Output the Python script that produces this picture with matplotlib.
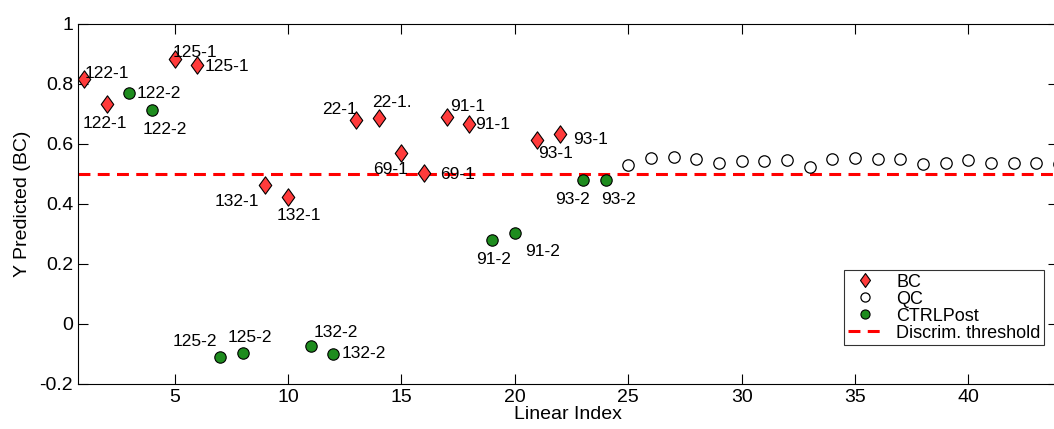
import numpy as np
import matplotlib.pyplot as plt
from matplotlib.path import Path as MPath

plt.rcParams["font.family"] = ["Liberation Sans", "DejaVu Sans"]
plt.rcParams["axes.unicode_minus"] = False

# BC samples
bc_x = [1, 2, 5, 6, 9, 10, 13, 14, 15, 16, 17, 18, 21, 22]
bc_y = [0.818, 0.735, 0.883, 0.865, 0.464, 0.424, 0.679, 0.685,
        0.570, 0.505, 0.691, 0.666, 0.614, 0.632]
bc_lab = ["122-1", "122-1", "125-1", "125-1", "132-1", "132-1", "22-1", "22-1.",
          "69-1", "69-1", "91-1", "91-1", "93-1", "93-1"]

# CTRLPost samples
ct_x = [3, 4, 7, 8, 11, 12, 19, 20, 23, 24]
ct_y = [0.770, 0.715, -0.109, -0.095, -0.074, -0.099, 0.281, 0.302, 0.480, 0.480]
ct_lab = ["122-2", "122-2", "125-2", "125-2", "132-2", "132-2",
          "91-2", "91-2", "93-2", "93-2"]

# QC samples
qc_x = list(range(25, 45))
qc_y = [0.530, 0.552, 0.557, 0.549, 0.537, 0.545, 0.545, 0.546, 0.525, 0.549,
        0.552, 0.549, 0.549, 0.533, 0.537, 0.546, 0.537, 0.537, 0.537, 0.533]

threshold = 0.5

# label placement: (dx, dy) in pixels, horizontal alignment
bc_off = [(1, 5, "left"), (-2, -20, "center"), (-2, 7, "left"), (7, -2, "left"),
          (-6, -17, "right"), (11, -19, "center"), (1, 11, "right"), (-7, 16, "left"),
          (-11, -17, "center"), (16, -2, "left"), (3, 10, "left"), (6, 0, "left"),
          (18, -14, "center"), (13, -5, "left")]
ct_off = [(7, 0, "left"), (13, -20, "center"), (-3, 15, "right"), (7, 15, "center"),
          (3, 14, "left"), (8, 0, "left"), (1, -20, "center"), (10, -18, "left"),
          (-10, -19, "center"), (13, -19, "center")]

fig = plt.figure(figsize=(10.54, 4.29), dpi=100)
ax = fig.add_axes([78 / 1054, 45 / 429, 980 / 1054, 360 / 429])

red = "#ff3b3b"
green = "#1e8c1e"
diamond = MPath([(0, 1), (0.72, 0), (0, -1), (-0.72, 0), (0, 1)],
                [1, 2, 2, 2, 79])

ax.plot(bc_x, bc_y, ls="none", marker=diamond, color=red, mec="black", mew=0.8,
        ms=12.5, label="BC")
ax.plot(qc_x, qc_y, "o", mfc="white", mec="black", mew=0.9, ms=8.2, label="QC")
ax.plot(ct_x, ct_y, "o", color=green, mec="black", mew=0.8, ms=8.2, label="CTRLPost")
ax.axhline(threshold, color="red", ls=(0, (3.9, 2.4)), lw=2.2,
           label="Discrim. threshold", zorder=1)

for x, y, t, (dx, dy, ha) in zip(bc_x, bc_y, bc_lab, bc_off):
    ax.annotate(t, (x, y), xytext=(dx * 0.72, dy * 0.72), textcoords="offset points",
                ha=ha, va="center", fontsize=12.5)
for x, y, t, (dx, dy, ha) in zip(ct_x, ct_y, ct_lab, ct_off):
    ax.annotate(t, (x, y), xytext=(dx * 0.72, dy * 0.72), textcoords="offset points",
                ha=ha, va="center", fontsize=12.5)

ax.set_xlim(0.74, 43.95)
ax.set_ylim(-0.2, 1.0)
ax.set_xticks([5, 10, 15, 20, 25, 30, 35, 40])
ax.set_yticks([-0.2, 0, 0.2, 0.4, 0.6, 0.8, 1.0])
ax.set_yticklabels(["-0.2", "0", "0.2", "0.4", "0.6", "0.8", "1"])
ax.tick_params(direction="in", top=True, right=True, labelsize=14, length=7, width=0.8)
ax.spines["right"].set_visible(False)
ax.set_xlabel("Linear Index", fontsize=14, labelpad=0)
ax.set_ylabel("Y Predicted (BC)", fontsize=14, labelpad=6)

leg = ax.legend(loc="lower right", bbox_to_anchor=(0.986, 0.108), fontsize=13,
                frameon=True, fancybox=False, edgecolor="black", borderpad=0.2,
                borderaxespad=0.0, labelspacing=0.0, handlelength=1.9,
                handletextpad=0.8, markerscale=0.8)
leg.get_frame().set_linewidth(0.8)

fig.savefig("out.png", dpi=100)
